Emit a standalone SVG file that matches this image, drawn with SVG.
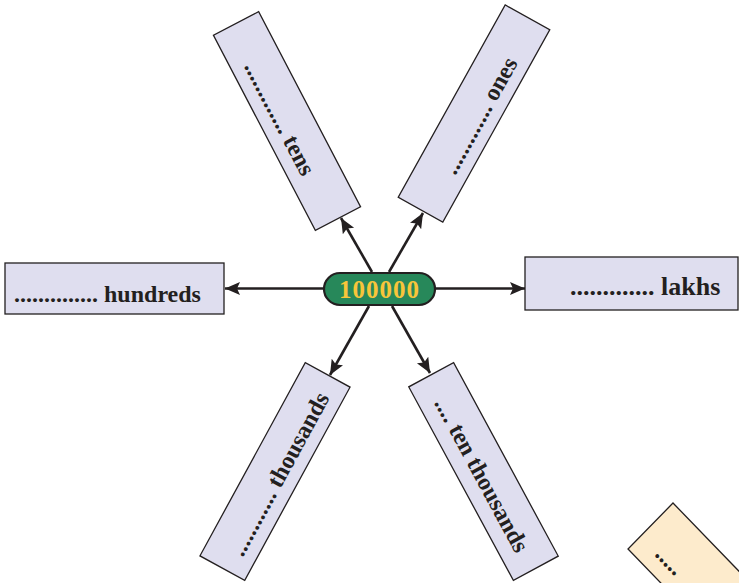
<svg xmlns="http://www.w3.org/2000/svg" width="739" height="583" viewBox="0 0 739 583">
<style>
.box{fill:#dfdeef;stroke:#231f20;stroke-width:1.3}
.lbl{font-family:"Liberation Serif","Times New Roman",serif;font-weight:bold;font-size:24px;fill:#231f20}
.conn{stroke:#231f20;stroke-width:2.6;fill:none;marker-end:url(#ah)}
</style>
<defs>
<marker id="ah" markerUnits="userSpaceOnUse" markerWidth="17" markerHeight="14" refX="15" refY="6.5" orient="auto">
<path d="M0,0 L15,6.5 L0,13 L3,6.5 z" fill="#231f20"/>
</marker>
</defs>
<rect width="739" height="583" fill="#ffffff"/>
<g id="connectors">
<line class="conn" x1="372" y1="272" x2="341" y2="218"/>
<line class="conn" x1="389" y1="272" x2="423" y2="213"/>
<line class="conn" x1="325" y1="288.5" x2="225" y2="288.5"/>
<line class="conn" x1="434" y1="288.5" x2="525" y2="288.5"/>
<line class="conn" x1="369" y1="306" x2="330" y2="375"/>
<line class="conn" x1="392" y1="306" x2="430" y2="373"/>
</g>
<g id="tens" transform="translate(287,121) rotate(62.4)">
<rect class="box" x="-110" y="-25.5" width="220" height="51"/>
<text class="lbl" x="-6" y="13" text-anchor="middle">............. tens</text>
</g>
<g id="ones" transform="translate(474,113.5) rotate(-60.9)">
<rect class="box" x="-110" y="-25.5" width="220" height="51"/>
<text class="lbl" x="1" y="14" text-anchor="middle">............. ones</text>
</g>
<g id="hundreds">
<rect class="box" x="5" y="263" width="219" height="51"/>
<text class="lbl" x="14" y="302">.............. hundreds</text>
</g>
<g id="lakhs">
<rect class="box" x="525" y="257" width="213" height="53"/>
<text class="lbl" x="570" y="295" style="font-size:26px">............. lakhs</text>
</g>
<g id="thousands" transform="translate(275,471.5) rotate(-61.4)">
<rect class="box" x="-110" y="-25.5" width="220" height="51"/>
<text class="lbl" x="0" y="13" text-anchor="middle">............ thousands</text>
</g>
<g id="ten-thousands" transform="translate(483.5,471.5) rotate(61.6)">
<rect class="box" x="-110" y="-25.5" width="220" height="51"/>
<text class="lbl" x="2" y="11" text-anchor="middle">.... ten thousands</text>
</g>
<g id="center">
<rect x="324" y="273" width="111" height="32" rx="16" ry="16" fill="#27885a" stroke="#231f20" stroke-width="2.2"/>
<text x="379.5" y="298" text-anchor="middle" style="font-family:'Liberation Serif','Times New Roman',serif;font-weight:bold;font-size:25px;letter-spacing:1px" fill="#f8c53a">100000</text>
</g>
<g id="partial-box">
<polygon points="673,503 760,593 715,639 628,549" fill="#fdebcc" stroke="#231f20" stroke-width="1.3"/>
<text class="lbl" x="654" y="555" transform="rotate(46 654 555)">.....</text>
</g>
</svg>
